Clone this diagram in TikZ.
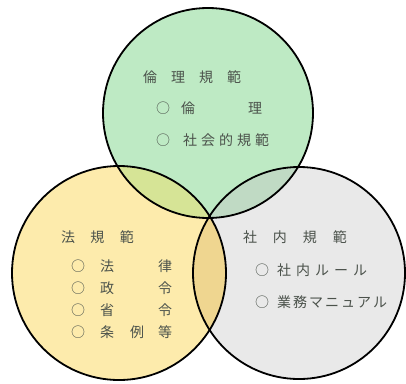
\documentclass[tikz,border=0pt]{standalone}
\usepackage{fontspec}
\newfontfamily\cjk{Noto Sans CJK JP}
\definecolor{topc}{RGB}{190,234,196}
\definecolor{leftc}{RGB}{253,235,172}
\definecolor{rightc}{RGB}{233,233,233}
\definecolor{tlc}{RGB}{214,228,150}
\definecolor{trc}{RGB}{192,218,196}
\definecolor{lrc}{RGB}{239,214,144}
\definecolor{tlrc}{RGB}{208,214,140}
\definecolor{txt}{RGB}{75,82,75}
\newcommand{\hs}[1]{\hspace{#1pt}}
\tikzset{
  ring/.style={draw=black,line width=1.8pt},
  lbl/.style={inner sep=0pt,text=txt,font=\cjk\fontsize{14}{14}\selectfont},
  lblw/.style={lbl,anchor=west}
}
\begin{document}
\begin{tikzpicture}[x=1pt,y=-1pt]
\useasboundingbox (0,0) rectangle (406,383);
\fill[white] (0,0) rectangle (406,383);
\coordinate (T) at (208,113);
\coordinate (L) at (119,273);
\coordinate (R) at (299,273);
% base fills
\fill[topc] (T) circle[radius=105pt];
\fill[leftc] (L) circle[radius=107pt];
\fill[rightc] (R) circle[radius=106pt];
% overlaps
\begin{scope}
  \clip (T) circle[radius=105pt];
  \fill[tlc] (L) circle[radius=107pt];
\end{scope}
\begin{scope}
  \clip (T) circle[radius=105pt];
  \fill[trc] (R) circle[radius=106pt];
\end{scope}
\begin{scope}
  \clip (L) circle[radius=107pt];
  \fill[lrc] (R) circle[radius=106pt];
\end{scope}
\begin{scope}
  \clip (T) circle[radius=105pt];
  \clip (L) circle[radius=107pt];
  \fill[tlrc] (R) circle[radius=106pt];
\end{scope}
% outlines
\draw[ring] (T) circle[radius=105pt];
\draw[ring] (L) circle[radius=107pt];
\draw[ring] (R) circle[radius=106pt];
% top circle text
\node[lbl] (t0) at (192,77) {倫\hs{14}理\hs{14}規\hs{14}範};
\node[lblw] (t1) at (156,108) {○\hs{11}倫\hs{53}理};
\node[lblw] (t2) at (156,140) {○\hs{13}社\hs{4}会\hs{4}的\hs{4}規\hs{4}範};
% left circle text
\node[lbl] (l0) at (97.5,237) {法\hs{15.5}規\hs{15.5}範};
\node[lblw] (l1) at (71,266) {○\hs{15}法\hs{44}律};
\node[lblw] (l2) at (71,288) {○\hs{15}政\hs{44}令};
\node[lblw] (l3) at (71,310) {○\hs{15}省\hs{44}令};
\node[lblw] (l4) at (71,332) {○\hs{15}条\hs{16}例\hs{14}等};
% right circle text
\node[lbl] (r0) at (295,237) {社\hs{16}内\hs{16}規\hs{16}範};
\node[lblw] (r1) at (255,270) {○\hs{8}社\hs{5}内\hs{5}ル\hs{5}ー\hs{5}ル};
\node[lblw] (r2) at (255,302) {○\hs{8}業\hs{2}務\hs{2}マ\hs{2}ニ\hs{2}ュ\hs{2}ア\hs{2}ル};
\end{tikzpicture}
\end{document}
